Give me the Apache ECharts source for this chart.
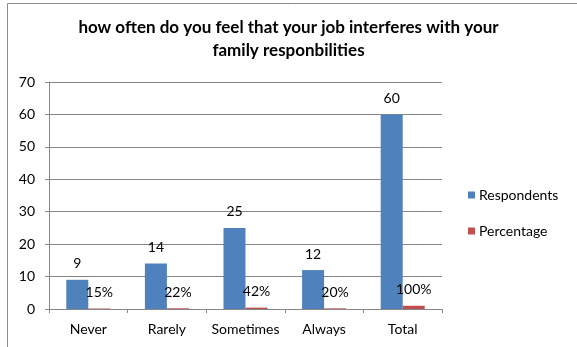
<!DOCTYPE html>
<html>
<head>
<meta charset="utf-8">
<script src="https://cdn.jsdelivr.net/npm/echarts@6/dist/echarts.min.js"></script>
<style>
html,body{margin:0;padding:0;background:#fff;}
#c{width:577px;height:347px;}
</style>
</head>
<body>
<div id="c"></div>
<script>
const titleText = "how often do you feel that your job interferes with your\nfamily responbilities";
const categories = ["Never", "Rarely", "Sometimes", "Always", "Total"];
const respondents = [9, 14, 25, 12, 60];
const percentage = [0.15, 0.22, 0.42, 0.20, 1.00];
const seriesNames = ["Respondents", "Percentage"];
const yTicks = [0, 10, 20, 30, 40, 50, 60, 70];

const FONT = "Lato";
const chart = echarts.init(document.getElementById('c'), null, {renderer: 'canvas'});
chart.setOption({
  animation: false,
  backgroundColor: '#ffffff',
  textStyle: {fontFamily: FONT},
  graphic: [{
    type: 'rect',
    shape: {x: 7.5, y: 3.5, width: 700, height: 500},
    style: {fill: 'none', stroke: '#8c8c8c', lineWidth: 1},
    silent: true
  }],
  title: {
    text: titleText,
    left: 'center',
    top: 11,
    textStyle: {fontFamily: FONT, fontSize: 17, fontWeight: 'bold', color: '#000', lineHeight: 23}
  },
  legend: {
    orient: 'vertical',
    left: 463,
    top: 183,
    itemWidth: 7,
    itemHeight: 7,
    itemGap: 22,
    icon: 'rect',
    textStyle: {fontFamily: FONT, fontSize: 14, color: '#000', padding: [0, 0, 0, -1]},
    data: seriesNames
  },
  grid: {left: 49, right: 135, top: 82, bottom: 38, containLabel: false},
  xAxis: {
    type: 'category',
    data: categories,
    boundaryGap: true,
    axisLine: {lineStyle: {color: '#868686', width: 1}},
    axisTick: {show: true, length: 4, alignWithLabel: false, interval: 0, lineStyle: {color: '#868686'}},
    axisLabel: {fontFamily: FONT, fontSize: 14, color: '#000', margin: 13, interval: 0}
  },
  yAxis: {
    type: 'value',
    min: yTicks[0],
    max: yTicks[yTicks.length - 1],
    interval: 10,
    axisLine: {show: true, lineStyle: {color: '#868686'}},
    axisTick: {show: true, length: 4, lineStyle: {color: '#868686'}},
    splitLine: {lineStyle: {color: '#868686', width: 1}},
    axisLabel: {fontFamily: FONT, fontSize: 14, color: '#000', margin: 14}
  },
  series: [
    {
      name: seriesNames[0],
      type: 'bar',
      data: respondents,
      itemStyle: {color: '#4F81BD'},
      barGap: '0%',
      barCategoryGap: '44%',
      label: {show: true, position: 'top', distance: 9, fontFamily: FONT, fontSize: 14, color: '#000'}
    },
    {
      name: seriesNames[1],
      type: 'bar',
      data: percentage,
      itemStyle: {color: '#C0504D'},
      label: {
        show: true, position: 'top', distance: 9, fontFamily: FONT, fontSize: 14, color: '#000',
        formatter: p => Math.round(p.value * 100) + '%'
      }
    }
  ]
});
</script>
</body>
</html>
